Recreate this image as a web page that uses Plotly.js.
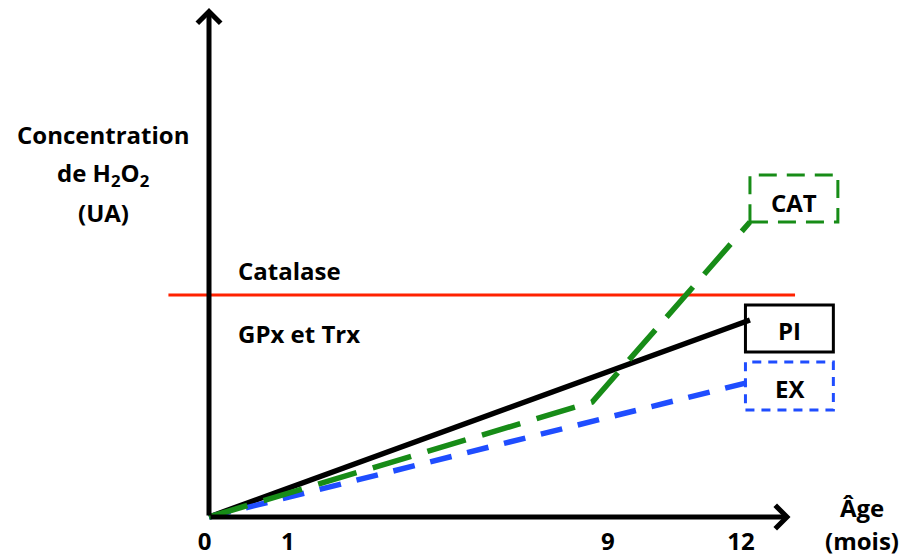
<!DOCTYPE html>
<html>
<head>
<meta charset="utf-8">
<script src="https://cdn.plot.ly/plotly-3.0.1.min.js"></script>
<style>html,body{margin:0;padding:0;background:#fff;}#chart{width:905px;height:558px;}</style>
</head>
<body>
<div id="chart"></div>
<script>
// ---- data (schematic) ----
const ageMonths   = [0, 12];              // age (mois)
const piValues    = [0, 3.94];            // PI : black solid
const exValues    = [0, 2.70];            // EX : blue dashed
const catAges     = [0, 8.5, 12];
const catValues   = [0, 2.30, 5.90];      // CAT : green dashed
const catalaseLevel = 4.44;               // red threshold line
const catalaseSpan  = [-0.9, 13.0];
const tickPositions = [-0.1, 1.75, 8.85, 11.8];
const tickLabels    = ['0', '1', '9', '12'];

const FONT = 'Open Sans, Lato, sans-serif';
const FS = 24;
const GREEN = '#178c17', BLUE = '#1f4dff', RED = '#ff2200';

const traces = [
  {x: catalaseSpan, y: [catalaseLevel, catalaseLevel], mode: 'lines',
   line: {color: RED, width: 3}, hoverinfo: 'skip'},
  {x: ageMonths, y: piValues, mode: 'lines', line: {color: '#000', width: 5.5}},
  {x: ageMonths, y: exValues, mode: 'lines', line: {color: BLUE, width: 5.5, dash: '22px,16px'}},
  {x: catAges, y: catValues, mode: 'lines', line: {color: GREEN, width: 5.5, dash: '40px,17px'}}
];

const endX = ageMonths[ageMonths.length - 1];
const piEnd = piValues[piValues.length - 1];
const exEnd = exValues[exValues.length - 1];
const catEnd = catValues[catValues.length - 1];
const catEndX = catAges[catAges.length - 1];

function box(x0, y0, y1, color, dash) {
  return {type: 'rect', xref: 'x', yref: 'y', x0: x0, x1: x0 + 1.95, y0: y0, y1: y1,
          line: {color: color, width: 3, dash: dash}, fillcolor: 'rgba(0,0,0,0)', layer: 'above'};
}
const shapes = [
  box(catEndX, catEnd, catEnd + 0.94, GREEN, '18px,10px'),
  box(endX - 0.1, piEnd - 0.64, piEnd + 0.30, '#000', 'solid'),
  box(endX - 0.1, exEnd - 0.56, exEnd + 0.40, BLUE, '9px,7px')
];

const font = () => ({family: FONT, size: FS, color: '#000', weight: 700});
const txt = (text, x, y, extra) => Object.assign({
  text: text, x: x, y: y, xref: 'x', yref: 'y', showarrow: false, font: font()
}, extra || {});
// label placed by pixel position in the 905x528 plot frame
const px = (text, x, y) => ({text: text, x: x / 905, y: (528 - y) / 528, xref: 'paper', yref: 'paper',
  showarrow: false, xanchor: 'center', yanchor: 'middle', font: font()});

const annotations = [
  // axes arrows
  {x: 0, y: 10.18, ax: 0, ay: 0, xref: 'x', yref: 'y', axref: 'x', ayref: 'y',
   text: '', showarrow: true, arrowhead: 4, arrowsize: 0.9, arrowwidth: 5, arrowcolor: '#000'},
  {x: 12.9, y: 0, ax: 0, ay: 0, xref: 'x', yref: 'y', axref: 'x', ayref: 'y',
   text: '', showarrow: true, arrowhead: 4, arrowsize: 0.9, arrowwidth: 5, arrowcolor: '#000'},
  txt('CAT', catEndX + 0.98, catEnd + 0.40),
  txt('PI', endX + 0.88, piEnd - 0.20),
  txt('EX', endX + 0.88, exEnd - 0.12),
  txt('Catalase', 0.6, 4.94, {xanchor: 'left'}),
  txt('GPx et Trx', 0.6, 3.68, {xanchor: 'left'}),
  px('Concentration', 103, 134),
  px('de H<sub>2</sub>O<sub>2</sub>', 103, 174),
  px('(UA)', 103, 212),
  px('Âge', 862, 507),
  px('(mois)', 862, 540)
];

const layout = {
  width: 905, height: 558,
  margin: {l: 0, r: 0, t: 0, b: 30},
  paper_bgcolor: '#fff', plot_bgcolor: '#fff',
  showlegend: false,
  xaxis: {range: [-209 / 45.08, (905 - 209) / 45.08], showgrid: false, zeroline: false,
          showline: false, ticks: '', tickvals: tickPositions, ticktext: tickLabels,
          ticklabelstandoff: -3,
          tickfont: font(), fixedrange: true},
  yaxis: {range: [-0.22, 10.34], showgrid: false, zeroline: false, showline: false,
          showticklabels: false, ticks: '', fixedrange: true},
  shapes: shapes,
  annotations: annotations
};

Plotly.newPlot('chart', traces, layout, {displayModeBar: false, staticPlot: true});
</script>
</body>
</html>
